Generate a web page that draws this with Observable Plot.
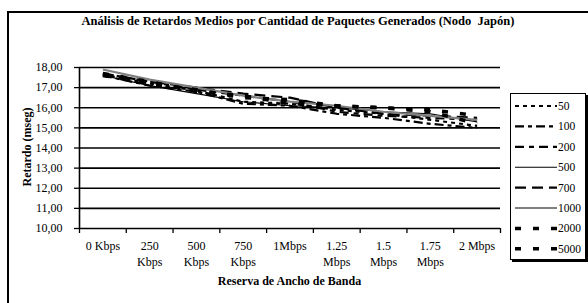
<!DOCTYPE html>
<html>
<head>
<meta charset="utf-8">
<script src="https://cdn.jsdelivr.net/npm/d3@7"></script>
<script src="https://cdn.jsdelivr.net/npm/@observablehq/plot@0.6"></script>
<style>
  html, body { margin: 0; padding: 0; background: #fff; }
  #wrap { position: relative; width: 588px; height: 303px; overflow: hidden; font-family: "Liberation Serif", "Times New Roman", serif; }
  #frame { position: absolute; left: 7px; top: 11px; width: 700px; height: 400px; border: 2px solid #000; box-sizing: border-box; }
  #title { position: absolute; left: 0; top: 14px; width: 596px; text-align: center; font-weight: bold; font-size: 12.5px; }
  #xtitle { position: absolute; left: 79px; top: 274px; width: 421px; text-align: center; font-weight: bold; font-size: 12px; }
  #ytitle { position: absolute; left: 27px; top: 147px; transform: translate(-50%, -50%) rotate(-90deg); white-space: nowrap; font-weight: bold; font-size: 12px; }
  #chart { position: absolute; left: 0; top: 0; }
  #chart svg, #chart svg text { font-family: "Liberation Serif", "Times New Roman", serif !important; }
  #legend { position: absolute; left: 510px; top: 93px; width: 76px; height: 167px; border: 1.5px solid #000; box-sizing: border-box; background: #fff; box-shadow: 2px 2px 0 #000; }
</style>
</head>
<body>
<div id="wrap">
  <div id="frame"></div>
  <div id="title">Análisis de Retardos Medios por Cantidad de Paquetes Generados (Nodo&nbsp; Japón)</div>
  <div id="chart"></div>
  <div id="xtitle">Reserva de Ancho de Banda</div>
  <div id="ytitle">Retardo (mseg)</div>
  <div id="legend"></div>
</div>
<script>
const categories = ["0 Kbps", "250\nKbps", "500\nKbps", "750\nKbps", "1Mbps", "1.25\nMbps", "1.5\nMbps", "1.75\nMbps", "2 Mbps"];
const seriesNames = ["50", "100", "200", "500", "700", "1000", "2000", "5000"];
const s50   = [17.65, 17.20, 16.85, 16.30, 16.20, 15.90, 15.70, 15.40, 15.10];
const s100  = [17.60, 17.10, 16.80, 16.20, 16.10, 15.70, 15.50, 15.20, 15.00];
const s200  = [17.70, 17.30, 16.90, 16.60, 16.30, 15.80, 15.60, 15.50, 15.40];
const s500  = [17.60, 17.10, 16.70, 16.30, 16.10, 16.00, 15.80, 15.70, 15.30];
const s700  = [17.70, 17.30, 17.00, 16.70, 16.50, 16.00, 15.70, 15.60, 15.50];
const s1000 = [17.90, 17.40, 17.00, 16.60, 16.30, 16.10, 15.80, 15.60, 15.40];
const s2000 = [17.70, 17.30, 16.80, 16.60, 16.20, 16.10, 16.00, 15.90, 15.60];
const s5000 = [17.60, 17.20, 16.90, 16.50, 16.40, 16.10, 16.00, 15.80, 15.20];
const seriesValues = [s50, s100, s200, s500, s700, s1000, s2000, s5000];
const yTicks = [10, 11, 12, 13, 14, 15, 16, 17, 18];

const styles = {
  "50":   {stroke: "#000", width: 2.2, dash: "4,4"},
  "100":  {stroke: "#000", width: 2.2, dash: "9,4,4,4"},
  "200":  {stroke: "#000", width: 2.2, dash: "9,5,5,5"},
  "500":  {stroke: "#000", width: 1.1, dash: null},
  "700":  {stroke: "#000", width: 2.2, dash: "11,6"},
  "1000": {stroke: "#808080", width: 2.2, dash: null},
  "2000": {stroke: "#000", width: 3.5, dash: "6,12"},
  "5000": {stroke: "#000", width: 3.5, dash: "6,12"}
};

const rows = [];
seriesNames.forEach((name, k) => {
  seriesValues[k].forEach((v, i) => rows.push({series: name, xi: i + 0.5, v}));
});

const lineMarks = seriesNames.map(name => Plot.line(rows.filter(r => r.series === name), {
  x: "xi", y: "v",
  stroke: styles[name].stroke,
  strokeWidth: styles[name].width,
  strokeDasharray: styles[name].dash,
  strokeLinecap: "butt"
}));

const chart = Plot.plot({
  width: 588,
  height: 303,
  marginLeft: 79,
  marginRight: 88,
  marginTop: 67,
  marginBottom: 75,
  style: {fontFamily: "'Liberation Serif', 'Times New Roman', serif", fontSize: "12px", color: "#000", background: "transparent"},
  x: {domain: [0, categories.length]},
  y: {domain: [10, 18]},
  marks: [
    Plot.ruleY(yTicks, {stroke: "#000", strokeWidth: 1.6}),
    Plot.ruleX([0], {stroke: "#000", strokeWidth: 1.6}),
    Plot.axisY({ticks: yTicks, tickSize: 5, tickPadding: 12, tickFormat: d => d.toFixed(2).replace(".", ","), label: null, strokeWidth: 1.3}),
    Plot.axisX({ticks: d3.range(categories.length + 1), tickSize: 5, tickFormat: () => "", label: null, strokeWidth: 1.3}),
    Plot.axisX({ticks: d3.range(categories.length).map(i => i + 0.5), tickSize: 0, tickPadding: 10, tickFormat: d => categories[Math.floor(d)], label: null, lineHeight: 1.35}),
    ...lineMarks
  ]
});
document.getElementById("chart").appendChild(chart);

// legend
const legend = d3.select("#legend");
const lsvg = legend.append("svg").attr("width", 74).attr("height", 165);
seriesNames.forEach((name, k) => {
  const y = 12 + k * 20.4;
  const st = styles[name];
  lsvg.append("line").attr("x1", 4).attr("x2", 46).attr("y1", y).attr("y2", y)
    .attr("stroke", st.stroke).attr("stroke-width", st.width)
    .attr("stroke-dasharray", st.dash).attr("stroke-linecap", "butt");
  lsvg.append("text").attr("x", 47).attr("y", y).attr("dy", "0.35em")
    .attr("font-family", "'Liberation Serif', 'Times New Roman', serif").attr("font-size", 11.5).text(name);
});
</script>
</body>
</html>
